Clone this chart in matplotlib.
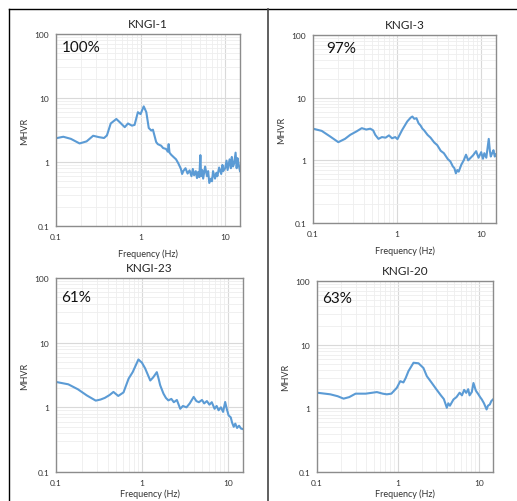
import matplotlib
matplotlib.use("Agg")
import matplotlib.pyplot as plt
from matplotlib.lines import Line2D
from matplotlib.ticker import LogLocator, FixedLocator, NullFormatter

plt.rcParams["font.family"] = ["Lato", "DejaVu Sans"]

titles = ["KNGI-1", "KNGI-3", "KNGI-23", "KNGI-20"]
percents = ["100%", "97%", "61%", "63%"]
x_ticks = [0.1, 1, 10]
x_tick_labels = ["0.1", "1", "10"]
y_ticks = [0.1, 1, 10, 100]
y_tick_labels = ["0.1", "1", "10", "100"]

f1 = [0.1, 0.122, 0.15, 0.19, 0.23, 0.275, 0.32, 0.37, 0.40, 0.444, 0.517, 0.566, 0.65,
      0.71, 0.79, 0.85, 0.93, 1.0, 1.09, 1.17, 1.25, 1.34, 1.4, 1.53, 1.6, 1.75, 1.85,
      2.0, 2.1, 2.15, 2.2, 2.3, 2.45, 2.63, 2.8, 3.0, 3.1, 3.2, 3.4, 3.6, 3.8, 4.0, 4.15,
      4.3, 4.5, 4.65, 4.8, 4.95, 5.1, 5.2, 5.35, 5.5, 5.8, 6.1, 6.3, 6.5, 6.8, 7.0, 7.2,
      7.6, 7.9, 8.1, 8.5, 9.0, 9.3, 9.5, 10.0, 10.4, 10.7, 11.3, 11.7, 12.0, 12.4, 12.8,
      13.3, 13.7, 14.0, 14.5, 15.0]
v1 = [2.35, 2.48, 2.3, 1.95, 2.1, 2.57, 2.45, 2.37, 2.6, 4.0, 4.7, 4.2, 3.5,
      4.0, 3.7, 3.8, 6.0, 5.6, 7.4, 6.0, 3.4, 3.1, 3.2, 2.05, 1.9, 1.8, 1.65,
      1.6, 1.45, 1.9, 1.4, 1.3, 1.2, 1.1, 0.95, 0.78, 0.65, 0.72, 0.8, 0.66, 0.74, 0.6, 0.78,
      0.62, 0.72, 0.56, 0.7, 0.58, 1.28, 0.6, 0.75, 0.55, 0.85, 0.6, 0.72, 0.47, 0.55, 0.5, 0.72,
      0.55, 0.68, 0.6, 0.82, 0.65, 0.9, 0.72, 0.8, 1.05, 0.75, 1.1, 0.8, 1.2, 0.85, 0.95,
      1.4, 0.8, 1.15, 0.9, 0.72]

f2 = [0.1, 0.127, 0.16, 0.2, 0.24, 0.277, 0.33, 0.38, 0.43, 0.48, 0.52, 0.55, 0.6, 0.66,
      0.73, 0.8, 0.87, 0.95, 1.01, 1.08, 1.15, 1.32, 1.45, 1.52, 1.6, 1.7, 1.8, 1.9, 2.0,
      2.1, 2.3, 2.5, 2.76, 3.0, 3.3, 3.6, 4.0, 4.3, 4.6, 4.8, 5.0, 5.2, 5.4, 5.8, 6.2,
      6.6, 7.0, 7.5, 8.0, 8.7, 9.3, 10.0, 10.5, 10.9, 11.5, 12.3, 12.7, 13.0, 13.5, 14.0,
      14.5, 15.0]
v2 = [3.2, 2.95, 2.4, 1.95, 2.2, 2.55, 2.9, 3.26, 3.1, 3.2, 3.0, 2.55, 2.2, 2.35,
      2.3, 2.5, 2.25, 2.35, 2.18, 2.6, 3.06, 4.17, 4.8, 5.0, 4.6, 4.7, 3.9, 3.6, 3.2,
      3.0, 2.55, 2.3, 1.93, 1.75, 1.42, 1.3, 1.05, 0.96, 0.8, 0.75, 0.62, 0.7, 0.66, 0.85, 1.0,
      1.23, 1.0, 1.1, 1.2, 1.4, 1.1, 1.35, 1.06, 1.3, 1.1, 2.2, 1.4, 1.15, 1.3, 1.45,
      1.15, 1.25]

f3 = [0.1, 0.139, 0.18, 0.228, 0.29, 0.33, 0.37, 0.42, 0.466, 0.53, 0.61, 0.7, 0.78,
      0.85, 0.91, 1.0, 1.09, 1.25, 1.35, 1.49, 1.56, 1.63, 1.78, 1.9, 2.03, 2.2, 2.35,
      2.55, 2.79, 3.0, 3.3, 3.6, 4.0, 4.3, 4.6, 5.0, 5.3, 5.7, 6.1, 6.5, 7.0, 7.4, 7.8,
      8.3, 8.8, 9.3, 9.7, 10.2, 10.8, 11.2, 11.7, 12.2, 12.8, 13.5, 14.2, 15.0]
v3 = [2.47, 2.27, 1.9, 1.53, 1.27, 1.32, 1.4, 1.55, 1.73, 1.5, 1.7, 2.78, 3.5,
      4.5, 5.5, 4.9, 4.0, 2.6, 2.9, 3.5, 2.8, 2.2, 1.63, 1.4, 1.28, 1.35, 1.2,
      1.3, 0.95, 1.05, 1.0, 1.15, 1.45, 1.25, 1.2, 1.3, 1.15, 1.25, 1.1, 1.2, 0.95, 1.05, 0.9,
      1.0, 0.85, 1.21, 0.95, 0.75, 0.7, 0.58, 0.5, 0.56, 0.48, 0.52, 0.47, 0.46]

f4 = [0.1, 0.146, 0.18, 0.213, 0.25, 0.3, 0.4, 0.55, 0.65, 0.73, 0.83, 0.97, 1.07,
      1.17, 1.25, 1.35, 1.56, 1.8, 2.07, 2.28, 2.63, 3.0, 3.4, 3.7, 4.03, 4.2, 4.4,
      4.87, 5.3, 5.8, 6.2, 6.6, 7.0, 7.4, 7.7, 8.2, 8.6, 9.2, 9.9, 10.4, 10.9, 11.6,
      12.5, 13.0, 13.7, 14.3, 15.0]
v4 = [1.76, 1.66, 1.55, 1.42, 1.5, 1.7, 1.7, 1.8, 1.7, 1.66, 1.7, 2.1, 2.67,
      2.55, 3.0, 3.83, 5.2, 5.1, 4.3, 3.2, 2.5, 1.98, 1.6, 1.4, 1.02, 1.2, 1.1,
      1.38, 1.5, 1.76, 1.6, 1.95, 1.75, 2.0, 1.6, 1.8, 2.5, 1.9, 1.66, 1.5, 1.38, 1.2,
      0.96, 1.1, 1.15, 1.3, 1.38]

series_f = [f1, f2, f3, f4]
series_v = [v1, v2, v3, v4]

W, H = 517, 502
fig = plt.figure(figsize=(W / 100, H / 100), dpi=100)
fig.patch.set_facecolor("white")

# axes boxes in pixel coords: left, top, right, bottom
boxes = [(56, 35, 240, 227), (313, 36, 496, 224), (56, 279, 243, 473), (317, 282, 493, 473)]
pct_pos = [(0.03, 0.93), (0.07, 0.93), (0.03, 0.90), (0.03, 0.91)]
xlabel_pads = [6, 6, 2, 2]

line_color = "#5B9BD5"
for i, (l, t, r, b) in enumerate(boxes):
    ax = fig.add_axes([l / W, 1 - b / H, (r - l) / W, (b - t) / H])
    ax.set_xscale("log")
    ax.set_yscale("log")
    ax.set_xlim(0.1, 15)
    ax.set_ylim(0.1, 100)
    ax.plot(series_f[i], series_v[i], color=line_color, lw=1.5, solid_joinstyle="round")
    ax.xaxis.set_major_locator(FixedLocator(x_ticks))
    ax.set_xticklabels(x_tick_labels)
    ax.yaxis.set_major_locator(FixedLocator(y_ticks))
    ax.set_yticklabels(y_tick_labels)
    ax.xaxis.set_minor_locator(LogLocator(base=10, subs=range(2, 10)))
    ax.yaxis.set_minor_locator(LogLocator(base=10, subs=range(2, 10)))
    ax.xaxis.set_minor_formatter(NullFormatter())
    ax.yaxis.set_minor_formatter(NullFormatter())
    ax.grid(True, which="major", color="#d9d9d9", lw=0.8)
    ax.grid(True, which="minor", color="#eeeeee", lw=0.6)
    ax.set_axisbelow(True)
    ax.tick_params(which="both", length=0, labelsize=6, colors="#333333", pad=5)
    for s in ax.spines.values():
        s.set_color("#8c8c8c")
        s.set_linewidth(1.0)
    ax.set_title(titles[i], fontsize=8.5, pad=5, color="#222222")
    ax.set_xlabel("Frequency (Hz)", fontsize=6.5, color="#333333", labelpad=xlabel_pads[i])
    ax.set_ylabel("MHVR", fontsize=6.5, color="#333333", labelpad=4)
    ax.text(pct_pos[i][0], pct_pos[i][1], percents[i], transform=ax.transAxes,
            fontsize=11, va="center", ha="left", color="#111111")

# outer frame lines
fig.add_artist(Line2D([9 / W, 1.0], [1 - 10 / H, 1 - 10 / H], color="black", lw=1.0))
fig.add_artist(Line2D([9 / W, 9 / W], [0, 1 - 10 / H], color="black", lw=1.0))
fig.add_artist(Line2D([268 / W, 268 / W], [0, 1 - 10 / H], color="#444444", lw=1.2))

fig.savefig("out.png", dpi=100)
